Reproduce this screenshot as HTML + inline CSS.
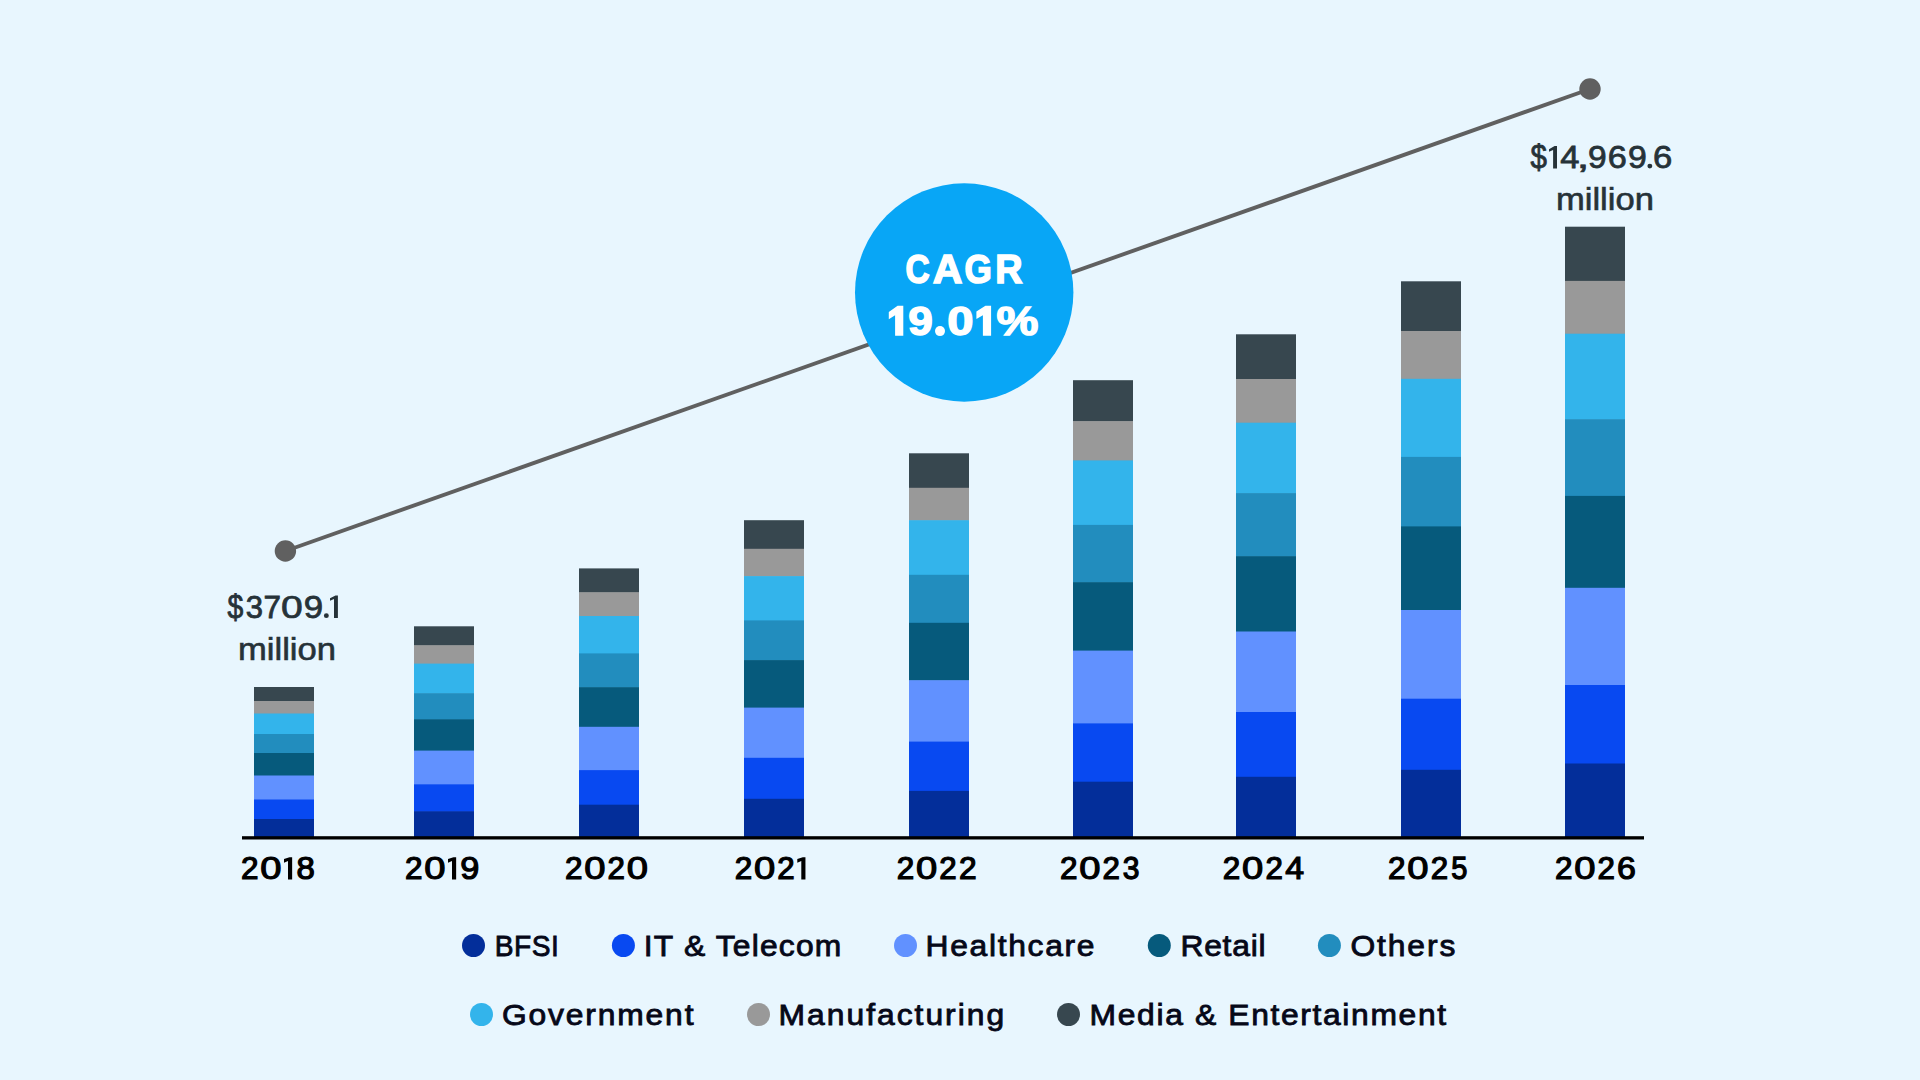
<!DOCTYPE html>
<html><head><meta charset="utf-8">
<style>
html,body{margin:0;padding:0;background:#E8F6FE;width:1920px;height:1080px;overflow:hidden}
svg{display:block}
text{font-family:"Liberation Sans",sans-serif}
.yr{font-size:31.1px;fill:#000;stroke:#000;stroke-width:1.25px}
.lg{font-size:30.3px;fill:#060818;stroke:#060818;stroke-width:0.85px}
.val{font-size:31px;fill:#263238;stroke:#263238;stroke-width:0.6px}
.cg{font-size:41.5px;font-weight:bold;fill:#fff;stroke:#fff;stroke-width:1.5px}
</style></head>
<body>
<svg width="1920" height="1080" viewBox="0 0 1920 1080">
<rect x="0" y="0" width="1920" height="1080" fill="#E8F6FE"/>
<line x1="285.4" y1="551" x2="1590" y2="89" stroke="#606060" stroke-width="3.9"/>
<circle cx="285.4" cy="551" r="10.7" fill="#606060"/>
<circle cx="1590" cy="89" r="10.7" fill="#606060"/>
<rect x="254" y="687" width="60" height="14.60" fill="#37474F"/>
<rect x="254" y="701" width="60" height="13.10" fill="#999999"/>
<rect x="254" y="713.5" width="60" height="21.10" fill="#33B4EB"/>
<rect x="254" y="734" width="60" height="19.60" fill="#228DBE"/>
<rect x="254" y="753" width="60" height="23.10" fill="#065A7C"/>
<rect x="254" y="775.5" width="60" height="24.60" fill="#6191FF"/>
<rect x="254" y="799.5" width="60" height="20.10" fill="#0849F1"/>
<rect x="254" y="819" width="60" height="18.60" fill="#032E9A"/>
<rect x="414" y="626.3" width="60" height="19.50" fill="#37474F"/>
<rect x="414" y="645.2" width="60" height="19.00" fill="#999999"/>
<rect x="414" y="663.6" width="60" height="30.20" fill="#33B4EB"/>
<rect x="414" y="693.2" width="60" height="26.70" fill="#228DBE"/>
<rect x="414" y="719.3" width="60" height="31.90" fill="#065A7C"/>
<rect x="414" y="750.6" width="60" height="34.30" fill="#6191FF"/>
<rect x="414" y="784.3" width="60" height="27.60" fill="#0849F1"/>
<rect x="414" y="811.3" width="60" height="26.30" fill="#032E9A"/>
<rect x="579" y="568.4" width="60" height="24.40" fill="#37474F"/>
<rect x="579" y="592.2" width="60" height="24.40" fill="#999999"/>
<rect x="579" y="616" width="60" height="38.00" fill="#33B4EB"/>
<rect x="579" y="653.4" width="60" height="34.40" fill="#228DBE"/>
<rect x="579" y="687.2" width="60" height="40.20" fill="#065A7C"/>
<rect x="579" y="726.8" width="60" height="43.90" fill="#6191FF"/>
<rect x="579" y="770.1" width="60" height="35.20" fill="#0849F1"/>
<rect x="579" y="804.7" width="60" height="32.90" fill="#032E9A"/>
<rect x="744" y="520.2" width="60" height="29.20" fill="#37474F"/>
<rect x="744" y="548.8" width="60" height="27.90" fill="#999999"/>
<rect x="744" y="576.1" width="60" height="44.90" fill="#33B4EB"/>
<rect x="744" y="620.4" width="60" height="40.30" fill="#228DBE"/>
<rect x="744" y="660.1" width="60" height="48.10" fill="#065A7C"/>
<rect x="744" y="707.6" width="60" height="50.80" fill="#6191FF"/>
<rect x="744" y="757.8" width="60" height="41.60" fill="#0849F1"/>
<rect x="744" y="798.8" width="60" height="38.80" fill="#032E9A"/>
<rect x="909" y="453.3" width="60" height="35.10" fill="#37474F"/>
<rect x="909" y="487.8" width="60" height="33.00" fill="#999999"/>
<rect x="909" y="520.2" width="60" height="55.20" fill="#33B4EB"/>
<rect x="909" y="574.8" width="60" height="48.60" fill="#228DBE"/>
<rect x="909" y="622.8" width="60" height="58.00" fill="#065A7C"/>
<rect x="909" y="680.2" width="60" height="62.00" fill="#6191FF"/>
<rect x="909" y="741.6" width="60" height="49.90" fill="#0849F1"/>
<rect x="909" y="790.9" width="60" height="46.70" fill="#032E9A"/>
<rect x="1073" y="380.2" width="60" height="41.50" fill="#37474F"/>
<rect x="1073" y="421.1" width="60" height="39.90" fill="#999999"/>
<rect x="1073" y="460.4" width="60" height="65.10" fill="#33B4EB"/>
<rect x="1073" y="524.9" width="60" height="57.90" fill="#228DBE"/>
<rect x="1073" y="582.2" width="60" height="69.00" fill="#065A7C"/>
<rect x="1073" y="650.6" width="60" height="73.40" fill="#6191FF"/>
<rect x="1073" y="723.4" width="60" height="58.90" fill="#0849F1"/>
<rect x="1073" y="781.7" width="60" height="55.90" fill="#032E9A"/>
<rect x="1236" y="334.3" width="60" height="45.30" fill="#37474F"/>
<rect x="1236" y="379" width="60" height="44.30" fill="#999999"/>
<rect x="1236" y="422.7" width="60" height="71.00" fill="#33B4EB"/>
<rect x="1236" y="493.1" width="60" height="63.70" fill="#228DBE"/>
<rect x="1236" y="556.2" width="60" height="75.90" fill="#065A7C"/>
<rect x="1236" y="631.5" width="60" height="81.10" fill="#6191FF"/>
<rect x="1236" y="712" width="60" height="65.40" fill="#0849F1"/>
<rect x="1236" y="776.8" width="60" height="60.80" fill="#032E9A"/>
<rect x="1401" y="281.3" width="60" height="50.30" fill="#37474F"/>
<rect x="1401" y="331" width="60" height="48.40" fill="#999999"/>
<rect x="1401" y="378.8" width="60" height="78.70" fill="#33B4EB"/>
<rect x="1401" y="456.9" width="60" height="70.10" fill="#228DBE"/>
<rect x="1401" y="526.4" width="60" height="84.20" fill="#065A7C"/>
<rect x="1401" y="610" width="60" height="89.30" fill="#6191FF"/>
<rect x="1401" y="698.7" width="60" height="71.70" fill="#0849F1"/>
<rect x="1401" y="769.8" width="60" height="67.80" fill="#032E9A"/>
<rect x="1565" y="226.7" width="60" height="54.80" fill="#37474F"/>
<rect x="1565" y="280.9" width="60" height="53.40" fill="#999999"/>
<rect x="1565" y="333.7" width="60" height="86.10" fill="#33B4EB"/>
<rect x="1565" y="419.2" width="60" height="77.30" fill="#228DBE"/>
<rect x="1565" y="495.9" width="60" height="92.50" fill="#065A7C"/>
<rect x="1565" y="587.8" width="60" height="97.80" fill="#6191FF"/>
<rect x="1565" y="685" width="60" height="79.10" fill="#0849F1"/>
<rect x="1565" y="763.5" width="60" height="74.10" fill="#032E9A"/>
<rect x="242" y="836.2" width="1402" height="3.3" fill="#000"/>
<circle cx="964.2" cy="292.5" r="109.2" fill="#08A6F6"/>
<text transform="translate(905.58,282.65) scale(0.8091,0.9894)" x="0" y="0" style="font-size:41.4px;font-weight:bold;fill:#fff;stroke:#fff;stroke-width:1.668px">C</text>
<text transform="translate(932.63,282.85) scale(0.9937,1.0000)" x="0" y="0" style="font-size:41.4px;font-weight:bold;fill:#fff;stroke:#fff;stroke-width:1.505px">A</text>
<text transform="translate(964.41,282.65) scale(0.8483,0.9894)" x="0" y="0" style="font-size:41.4px;font-weight:bold;fill:#fff;stroke:#fff;stroke-width:1.632px">G</text>
<text transform="translate(995.32,282.85) scale(0.9133,1.0000)" x="0" y="0" style="font-size:41.4px;font-weight:bold;fill:#fff;stroke:#fff;stroke-width:1.568px">R</text>
<path d="M888.80,312.10 L897.60,305.80 L903.30,305.80 L903.30,335.70 L895.10,335.70 L895.10,315.20 L888.80,319.20 Z" fill="#fff"/>
<text transform="translate(908.22,334.65) scale(1.0672,0.9928)" x="0" y="0" style="font-size:41.4px;font-weight:bold;fill:#fff;stroke:#fff;stroke-width:1.456px">9</text>
<circle cx="940" cy="331.1" r="5.0" fill="#fff"/>
<text transform="translate(947.28,334.65) scale(1.1428,0.9928)" x="0" y="0" style="font-size:41.4px;font-weight:bold;fill:#fff;stroke:#fff;stroke-width:1.405px">0</text>
<path d="M976.40,311.50 L985.40,305.80 L991.10,305.80 L991.10,335.70 L982.90,335.70 L982.90,315.20 L976.40,319.00 Z" fill="#fff"/>
<text transform="translate(996.38,334.73) scale(1.1387,0.9921)" x="0" y="0" style="font-size:41.4px;font-weight:bold;fill:#fff;stroke:#fff;stroke-width:1.408px">%</text>
<text transform="translate(227.40,617.96) scale(0.9025,1.0739)" x="0" y="0" style="font-size:31.4px;font-weight:normal;fill:#263238;stroke:#263238;stroke-width:0.810px">$</text>
<circle cx="326.35" cy="615.65" r="2.45" fill="#263238"/>
<text transform="translate(245.82,617.60) scale(0.9874,1.0000)" x="0" y="0" style="font-size:31.4px;font-weight:normal;fill:#263238;stroke:#263238;stroke-width:0.805px">3</text>
<text transform="translate(263.59,617.60) scale(1.0018,1.0000)" x="0" y="0" style="font-size:31.4px;font-weight:normal;fill:#263238;stroke:#263238;stroke-width:0.799px">7</text>
<text transform="translate(280.97,617.60) scale(1.2458,1.0000)" x="0" y="0" style="font-size:31.4px;font-weight:normal;fill:#263238;stroke:#263238;stroke-width:0.712px">0</text>
<text transform="translate(303.77,617.60) scale(1.1100,1.0000)" x="0" y="0" style="font-size:31.4px;font-weight:normal;fill:#263238;stroke:#263238;stroke-width:0.758px">9</text>
<path d="M330.00,598.20 L335.50,595.60 L337.90,595.60 L337.90,617.90 L334.00,617.90 L334.00,598.90 L330.00,600.80 Z" fill="#263238"/>
<text x="287" y="660" text-anchor="middle" class="val" textLength="98" lengthAdjust="spacingAndGlyphs">million</text>
<text transform="translate(1530.58,168.10) scale(0.9386,1.0582)" x="0" y="0" style="font-size:31.4px;font-weight:normal;fill:#263238;stroke:#263238;stroke-width:0.801px">$</text>
<path d="M1549.00,149.30 L1554.60,146.00 L1557.00,146.00 L1557.00,168.50 L1553.10,168.50 L1553.10,149.90 L1549.00,151.70 Z" fill="#263238"/>
<circle cx="1649.85" cy="166.1" r="2.45" fill="#263238"/>
<text transform="translate(1560.31,168.20) scale(1.0997,1.0000)" x="0" y="0" style="font-size:31.4px;font-weight:normal;fill:#263238;stroke:#263238;stroke-width:0.762px">4</text>
<text transform="translate(1587.93,168.20) scale(1.0687,1.0000)" x="0" y="0" style="font-size:31.4px;font-weight:normal;fill:#263238;stroke:#263238;stroke-width:0.773px">9</text>
<text transform="translate(1607.76,168.20) scale(1.0905,1.0000)" x="0" y="0" style="font-size:31.4px;font-weight:normal;fill:#263238;stroke:#263238;stroke-width:0.765px">6</text>
<text transform="translate(1627.92,168.20) scale(1.0756,1.0000)" x="0" y="0" style="font-size:31.4px;font-weight:normal;fill:#263238;stroke:#263238;stroke-width:0.771px">9</text>
<text transform="translate(1652.89,168.20) scale(1.1043,1.0000)" x="0" y="0" style="font-size:31.4px;font-weight:normal;fill:#263238;stroke:#263238;stroke-width:0.760px">6</text>
<text transform="translate(1576.49,168.39) scale(1.4927,0.9492)" x="0" y="0" style="font-size:31.4px;font-weight:normal;fill:#263238;stroke:#263238;stroke-width:0.655px">,</text>
<text x="1604.9" y="210.4" text-anchor="middle" class="val" textLength="98" lengthAdjust="spacingAndGlyphs">million</text>
<text transform="translate(240.94,879.00) scale(1.0128,1.0000)" x="0" y="0" style="font-size:31.1px;font-weight:normal;fill:#000;stroke:#000;stroke-width:1.242px">2</text>
<text transform="translate(260.23,879.00) scale(1.2276,1.0000)" x="0" y="0" style="font-size:31.1px;font-weight:normal;fill:#000;stroke:#000;stroke-width:1.122px">0</text>
<path d="M284.00,859.10 L289.50,857.20 L292.15,857.20 L292.15,879.40 L288.00,879.40 L288.00,860.90 L284.00,862.80 Z" fill="#000"/>
<text transform="translate(296.59,879.00) scale(1.0587,1.0000)" x="0" y="0" style="font-size:31.1px;font-weight:normal;fill:#000;stroke:#000;stroke-width:1.214px">8</text>
<text transform="translate(404.94,879.00) scale(1.0128,1.0000)" x="0" y="0" style="font-size:31.1px;font-weight:normal;fill:#000;stroke:#000;stroke-width:1.242px">2</text>
<text transform="translate(424.23,879.00) scale(1.2276,1.0000)" x="0" y="0" style="font-size:31.1px;font-weight:normal;fill:#000;stroke:#000;stroke-width:1.122px">0</text>
<path d="M448.00,859.10 L453.50,857.20 L456.15,857.20 L456.15,879.40 L452.00,879.40 L452.00,860.90 L448.00,862.80 Z" fill="#000"/>
<text transform="translate(460.22,879.00) scale(1.1033,1.0000)" x="0" y="0" style="font-size:31.1px;font-weight:normal;fill:#000;stroke:#000;stroke-width:1.189px">9</text>
<text transform="translate(564.94,879.00) scale(1.0128,1.0000)" x="0" y="0" style="font-size:31.1px;font-weight:normal;fill:#000;stroke:#000;stroke-width:1.242px">2</text>
<text transform="translate(584.23,879.00) scale(1.2276,1.0000)" x="0" y="0" style="font-size:31.1px;font-weight:normal;fill:#000;stroke:#000;stroke-width:1.122px">0</text>
<text transform="translate(607.55,879.00) scale(1.0058,1.0000)" x="0" y="0" style="font-size:31.1px;font-weight:normal;fill:#000;stroke:#000;stroke-width:1.246px">2</text>
<text transform="translate(626.83,879.00) scale(1.2276,1.0000)" x="0" y="0" style="font-size:31.1px;font-weight:normal;fill:#000;stroke:#000;stroke-width:1.122px">0</text>
<text transform="translate(734.64,879.00) scale(1.0128,1.0000)" x="0" y="0" style="font-size:31.1px;font-weight:normal;fill:#000;stroke:#000;stroke-width:1.242px">2</text>
<text transform="translate(753.93,879.00) scale(1.2276,1.0000)" x="0" y="0" style="font-size:31.1px;font-weight:normal;fill:#000;stroke:#000;stroke-width:1.122px">0</text>
<text transform="translate(777.25,879.00) scale(1.0058,1.0000)" x="0" y="0" style="font-size:31.1px;font-weight:normal;fill:#000;stroke:#000;stroke-width:1.246px">2</text>
<path d="M797.30,859.10 L802.80,857.20 L805.45,857.20 L805.45,879.40 L801.30,879.40 L801.30,860.90 L797.30,862.80 Z" fill="#000"/>
<text transform="translate(896.74,879.00) scale(1.0128,1.0000)" x="0" y="0" style="font-size:31.1px;font-weight:normal;fill:#000;stroke:#000;stroke-width:1.242px">2</text>
<text transform="translate(916.03,879.00) scale(1.2276,1.0000)" x="0" y="0" style="font-size:31.1px;font-weight:normal;fill:#000;stroke:#000;stroke-width:1.122px">0</text>
<text transform="translate(939.35,879.00) scale(1.0058,1.0000)" x="0" y="0" style="font-size:31.1px;font-weight:normal;fill:#000;stroke:#000;stroke-width:1.246px">2</text>
<text transform="translate(958.93,879.00) scale(1.0199,1.0000)" x="0" y="0" style="font-size:31.1px;font-weight:normal;fill:#000;stroke:#000;stroke-width:1.238px">2</text>
<text transform="translate(1059.94,879.00) scale(1.0128,1.0000)" x="0" y="0" style="font-size:31.1px;font-weight:normal;fill:#000;stroke:#000;stroke-width:1.242px">2</text>
<text transform="translate(1079.23,879.00) scale(1.2276,1.0000)" x="0" y="0" style="font-size:31.1px;font-weight:normal;fill:#000;stroke:#000;stroke-width:1.122px">0</text>
<text transform="translate(1102.55,879.00) scale(1.0058,1.0000)" x="0" y="0" style="font-size:31.1px;font-weight:normal;fill:#000;stroke:#000;stroke-width:1.246px">2</text>
<text transform="translate(1122.68,879.00) scale(0.9664,1.0000)" x="0" y="0" style="font-size:31.1px;font-weight:normal;fill:#000;stroke:#000;stroke-width:1.271px">3</text>
<text transform="translate(1222.79,879.00) scale(1.0128,1.0000)" x="0" y="0" style="font-size:31.1px;font-weight:normal;fill:#000;stroke:#000;stroke-width:1.242px">2</text>
<text transform="translate(1242.08,879.00) scale(1.2276,1.0000)" x="0" y="0" style="font-size:31.1px;font-weight:normal;fill:#000;stroke:#000;stroke-width:1.122px">0</text>
<text transform="translate(1265.40,879.00) scale(1.0058,1.0000)" x="0" y="0" style="font-size:31.1px;font-weight:normal;fill:#000;stroke:#000;stroke-width:1.246px">2</text>
<text transform="translate(1285.25,879.00) scale(1.0880,1.0000)" x="0" y="0" style="font-size:31.1px;font-weight:normal;fill:#000;stroke:#000;stroke-width:1.197px">4</text>
<text transform="translate(1388.04,879.00) scale(1.0128,1.0000)" x="0" y="0" style="font-size:31.1px;font-weight:normal;fill:#000;stroke:#000;stroke-width:1.242px">2</text>
<text transform="translate(1407.33,879.00) scale(1.2276,1.0000)" x="0" y="0" style="font-size:31.1px;font-weight:normal;fill:#000;stroke:#000;stroke-width:1.122px">0</text>
<text transform="translate(1430.65,879.00) scale(1.0058,1.0000)" x="0" y="0" style="font-size:31.1px;font-weight:normal;fill:#000;stroke:#000;stroke-width:1.246px">2</text>
<text transform="translate(1451.26,879.00) scale(0.9325,1.0000)" x="0" y="0" style="font-size:31.1px;font-weight:normal;fill:#000;stroke:#000;stroke-width:1.294px">5</text>
<text transform="translate(1554.94,879.00) scale(1.0128,1.0000)" x="0" y="0" style="font-size:31.1px;font-weight:normal;fill:#000;stroke:#000;stroke-width:1.242px">2</text>
<text transform="translate(1574.23,879.00) scale(1.2276,1.0000)" x="0" y="0" style="font-size:31.1px;font-weight:normal;fill:#000;stroke:#000;stroke-width:1.122px">0</text>
<text transform="translate(1597.55,879.00) scale(1.0058,1.0000)" x="0" y="0" style="font-size:31.1px;font-weight:normal;fill:#000;stroke:#000;stroke-width:1.246px">2</text>
<text transform="translate(1616.90,879.00) scale(1.0906,1.0000)" x="0" y="0" style="font-size:31.1px;font-weight:normal;fill:#000;stroke:#000;stroke-width:1.196px">6</text>
<circle cx="473.5" cy="945.5" r="11.5" fill="#032E9A"/>
<text transform="translate(494.8,956.1) scale(0.93,1)" x="0" y="0" class="lg" textLength="68.82" lengthAdjust="spacing">BFSI</text>
<circle cx="623.4" cy="945.5" r="11.5" fill="#0849F1"/>
<text transform="translate(643.8,956.1) scale(1.05,1)" x="0" y="0" class="lg" textLength="188.10" lengthAdjust="spacing">IT &amp; Telecom</text>
<circle cx="905.5" cy="945.5" r="11.5" fill="#6191FF"/>
<text transform="translate(925.6,956.1) scale(1.05,1)" x="0" y="0" class="lg" textLength="160.86" lengthAdjust="spacing">Healthcare</text>
<circle cx="1159.3" cy="945.5" r="11.5" fill="#065A7C"/>
<text transform="translate(1180.4,956.1) scale(1.05,1)" x="0" y="0" class="lg" textLength="81.14" lengthAdjust="spacing">Retail</text>
<circle cx="1329.4" cy="945.5" r="11.5" fill="#228DBE"/>
<text transform="translate(1350.5,956.1) scale(1.05,1)" x="0" y="0" class="lg" textLength="99.81" lengthAdjust="spacing">Others</text>
<circle cx="481.5" cy="1014.5" r="11.5" fill="#33B4EB"/>
<text transform="translate(502,1025.0) scale(1.05,1)" x="0" y="0" class="lg" textLength="182.38" lengthAdjust="spacing">Government</text>
<circle cx="758.5" cy="1014.5" r="11.5" fill="#999999"/>
<text transform="translate(778.6,1025.0) scale(1.05,1)" x="0" y="0" class="lg" textLength="214.76" lengthAdjust="spacing">Manufacturing</text>
<circle cx="1068.5" cy="1014.5" r="11.5" fill="#37474F"/>
<text transform="translate(1089.6,1025.0) scale(1.05,1)" x="0" y="0" class="lg" textLength="339.52" lengthAdjust="spacing">Media &amp; Entertainment</text>
</svg>
</body></html>
